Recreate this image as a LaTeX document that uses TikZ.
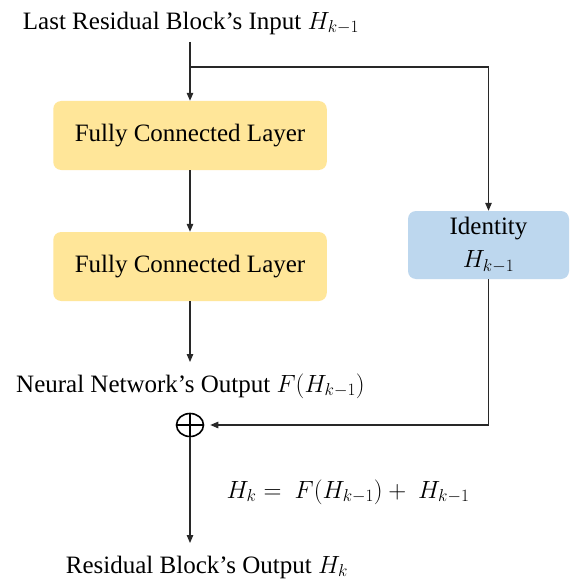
\documentclass[tikz,border=0pt]{standalone}
\usepackage{fontspec}
\setmainfont{Liberation Serif}
\DeclareMathSizes{25}{25}{19}{15}
\usetikzlibrary{arrows.meta,shapes.geometric}
\definecolor{fcyellow}{RGB}{255,230,153}
\definecolor{idblue}{RGB}{189,215,238}
\tikzset{
  txt/.style={inner sep=0pt, font=\fontsize{25}{30}\selectfont},
  fcbox/.style={rounded corners=8pt, fill=fcyellow, draw=none, minimum width=273.5pt, minimum height=69pt, inner sep=0pt, font=\fontsize{25}{30}\selectfont},
  idbox/.style={rounded corners=8pt, fill=idblue, draw=none, minimum width=161pt, minimum height=68pt, inner sep=0pt, align=center, font=\fontsize{25}{33}\selectfont},
  conn/.style={line width=1.2pt, draw={rgb,255:red,40;green,40;blue,40}},
  arr/.style={conn, -{Triangle[length=8pt,width=6.5pt]}},
  plusnode/.style={ellipse, draw, line width=1.6pt, minimum width=27pt, minimum height=23pt, inner sep=0pt,
    path picture={\draw[line width=1.6pt] (path picture bounding box.north) -- (path picture bounding box.south)
      (path picture bounding box.west) -- (path picture bounding box.east);}}
}
\begin{document}
\begin{tikzpicture}[x=1pt,y=-1pt]
\useasboundingbox[fill=white] (0,0) rectangle (570,580);
\node[txt] (in) at (191,23) {Last Residual Block's Input $H_{k-1}$};
\node[fcbox] (fc1) at (190,135.5) {Fully Connected Layer};
\node[fcbox] (fc2) at (190,266.5) {Fully Connected Layer};
\node[idbox] (id) at (488.5,245) {Identity\\$H_{k-1}$};
\node[txt] (nn) at (190.5,386) {Neural Network's Output $F(H_{k-1})$};
\node[plusnode] (plus) at (190,425) {};
\node[txt] (eq) at (348,492) {$H_k =\ F(H_{k-1}) +\ H_{k-1}$};
\node[txt] (out) at (207,567) {Residual Block's Output $H_k$};
\coordinate (instart) at (190,42);
\coordinate (branch) at (190,67);
\coordinate (nnin) at (190,362);
\coordinate (outin) at (190,543);
\draw[arr] (instart) -- (fc1.north);
\draw[arr] (branch) -| (id.north);
\draw[arr] (fc1.south) -- (fc2.north);
\draw[arr] (fc2.south) -- (nnin);
\draw[arr, shorten >=6pt] (id.south) |- (plus.east);
\draw[arr] (plus.south) -- (outin);
\end{tikzpicture}
\end{document}
